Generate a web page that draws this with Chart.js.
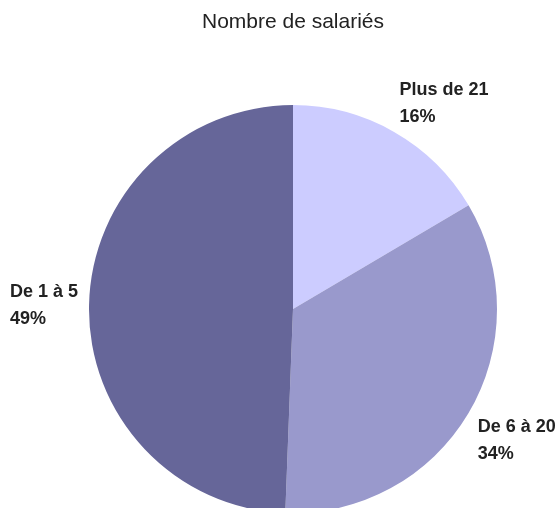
<!DOCTYPE html>
<html lang="fr">
<head>
<meta charset="utf-8">
<title>Nombre de salariés</title>
<script src="https://cdn.jsdelivr.net/npm/chart.js@4.4.1/dist/chart.umd.min.js"></script>
<style>
  html, body { margin: 0; padding: 0; background: #fff; overflow: hidden; }
  .chart-box { position: relative; width: 558px; height: 508px; }
</style>
</head>
<body>
<div class="chart-box"><canvas id="pie"></canvas></div>
<script>
'use strict';

/* ---- Data ---- */
const categories = ['Plus de 21', 'De 6 à 20', 'De 1 à 5'];
const shares     = [16.5, 34.1, 49.4];
const pctLabels  = ['16%', '34%', '49%'];
const colors     = ['#CCCCFF', '#9999CC', '#666699'];

const FONT = "'Liberation Sans', Arial, Helvetica, sans-serif";

/* ---- Outside labels: name + percentage, anchored on slice mid-angle ---- */
const sliceLabels = {
  id: 'sliceLabels',
  afterDatasetsDraw(chart) {
    const ctx = chart.ctx;
    const meta = chart.getDatasetMeta(0);
    const size = 18, lineH = 27, capH = 13, gap = 11;
    const clamp = v => Math.max(-1, Math.min(1, v));

    ctx.save();
    ctx.font = 'bold ' + size + 'px ' + FONT;
    ctx.fillStyle = '#222';
    ctx.textAlign = 'left';
    ctx.textBaseline = 'alphabetic';

    meta.data.forEach((arc, i) => {
      const { x, y, startAngle, endAngle, outerRadius } =
        arc.getProps(['x', 'y', 'startAngle', 'endAngle', 'outerRadius'], true);
      const mid = (startAngle + endAngle) / 2;
      const ux = Math.cos(mid), uy = Math.sin(mid);
      const px = x + ux * (outerRadius + gap);
      const py = y + uy * (outerRadius + gap);

      const lines = [categories[i], pctLabels[i]];
      const w = Math.max(...lines.map(t => ctx.measureText(t).width));
      const h = capH + (lines.length - 1) * lineH;

      const cx = px + clamp(ux * 3) * w / 2;
      const cy = py + clamp(uy * 3) * h / 2;
      const left = cx - w / 2;
      const top  = cy - h / 2;

      lines.forEach((t, j) => ctx.fillText(t, left, top + capH + j * lineH));
    });
    ctx.restore();
  }
};

/* ---- Chart ---- */
new Chart(document.getElementById('pie'), {
  type: 'pie',
  data: {
    labels: categories,
    datasets: [{
      data: shares,
      backgroundColor: colors,
      borderWidth: 0,
      radius: 204
    }]
  },
  options: {
    responsive: true,
    maintainAspectRatio: false,
    animation: false,
    layout: { padding: { left: 28, right: 0, top: 0, bottom: 0 } },
    plugins: {
      legend: { display: false },
      tooltip: { enabled: false },
      title: {
        display: true,
        text: 'Nombre de salariés',
        color: '#222',
        font: { family: FONT, size: 21, weight: 'normal', lineHeight: 1.2 },
        padding: { top: 10, bottom: 75 }
      }
    }
  },
  plugins: [sliceLabels]
});
</script>
</body>
</html>
